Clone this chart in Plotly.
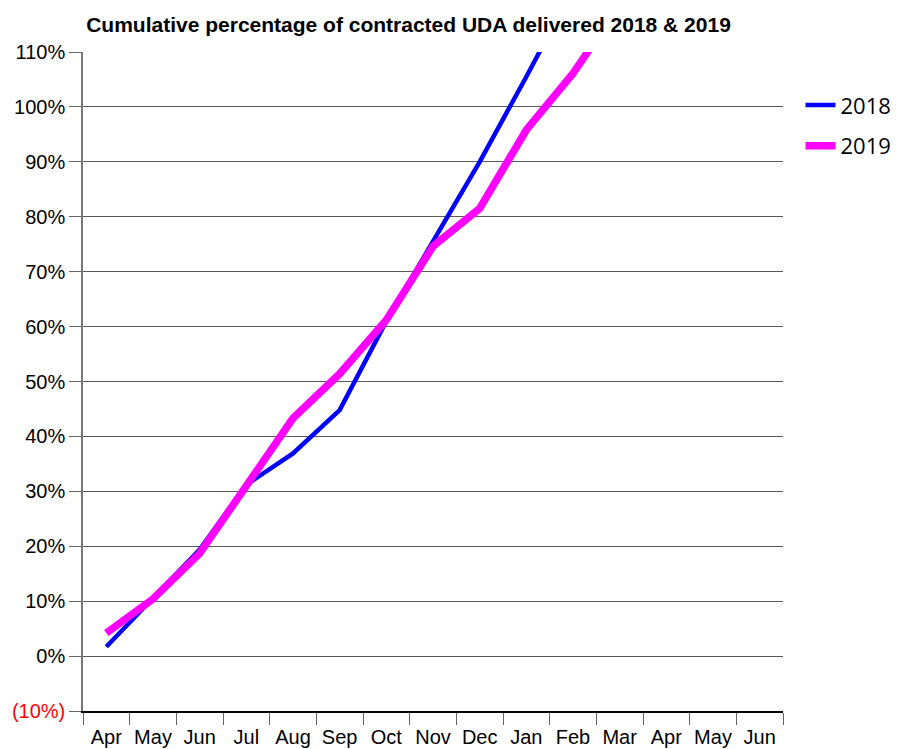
import plotly.graph_objects as go

months = ["Apr", "May", "Jun", "Jul", "Aug", "Sep", "Oct", "Nov", "Dec",
          "Jan", "Feb", "Mar", "Apr", "May", "Jun"]
y2018 = [1.7, 10.6, 19.4, 31.2, 36.9, 44.8, 61.0, 75.5, 90.0, 105.5, 121.5]
y2019 = [4.2, 10.4, 18.7, 31.1, 43.3, 51.4, 61.2, 74.6, 81.5, 95.8, 106.1, 118.5]
ytick_vals = [-10, 0, 10, 20, 30, 40, 50, 60, 70, 80, 90, 100, 110]
ytick_text = ["<span style='color:#ff0000'>(10%)</span>"] + [f"{v}%" for v in ytick_vals[1:]]

xpos = list(range(len(months)))

fig = go.Figure()
fig.add_trace(go.Scatter(x=xpos[:len(y2018)], y=y2018, mode="lines", name="2018",
                         legendgroup="a",
                         line=dict(color="#0000ff", width=4.5)))
fig.add_trace(go.Scatter(x=xpos[:len(y2019)], y=y2019, mode="lines", name="2019",
                         legendgroup="b",
                         line=dict(color="#ff00ff", width=7.5)))

fig.update_layout(
    width=893, height=741,
    margin=dict(l=75, r=118, t=44, b=38, autoexpand=False),
    paper_bgcolor="white", plot_bgcolor="white",
    title=dict(text="<b>Cumulative percentage of contracted UDA delivered 2018 &amp; 2019</b>",
               x=0.4485, xanchor="center", y=0.978, yanchor="middle",
               font=dict(family="Liberation Sans, Arial", size=21, color="black")),
    legend=dict(x=1.025, y=0.951, xanchor="left", yanchor="top",
                traceorder="grouped", tracegroupgap=9,
                font=dict(family="Open Sans", size=22, color="black")),
    showlegend=True,
)
fig.update_xaxes(
    range=[-0.5, len(months) - 0.5],
    tickmode="array", tickvals=xpos, ticktext=months,
    ticks="outside", ticklen=7, tickcolor="rgba(0,0,0,0)",
    minor=dict(tickmode="array", tickvals=[i - 0.5 for i in range(len(months) + 1)],
               ticks="outside", ticklen=12, tickcolor="#666666", tickwidth=1),
    showgrid=False, zeroline=False, automargin=False,
    showline=True, linecolor="black", linewidth=1.5,
    tickfont=dict(family="Liberation Sans, Arial", size=20, color="black"),
)
fig.update_yaxes(
    range=[-10, 110],
    tickmode="array", tickvals=ytick_vals, ticktext=ytick_text,
    ticks="outside", ticklen=12, tickcolor="#666666",
    showgrid=True, gridcolor="#5a5a5a", gridwidth=1,
    zeroline=False, automargin=False,
    showline=True, linecolor="#777777", linewidth=1.5,
    tickfont=dict(family="Liberation Sans, Arial", size=20, color="black"),
)

fig.write_html("out.html")
